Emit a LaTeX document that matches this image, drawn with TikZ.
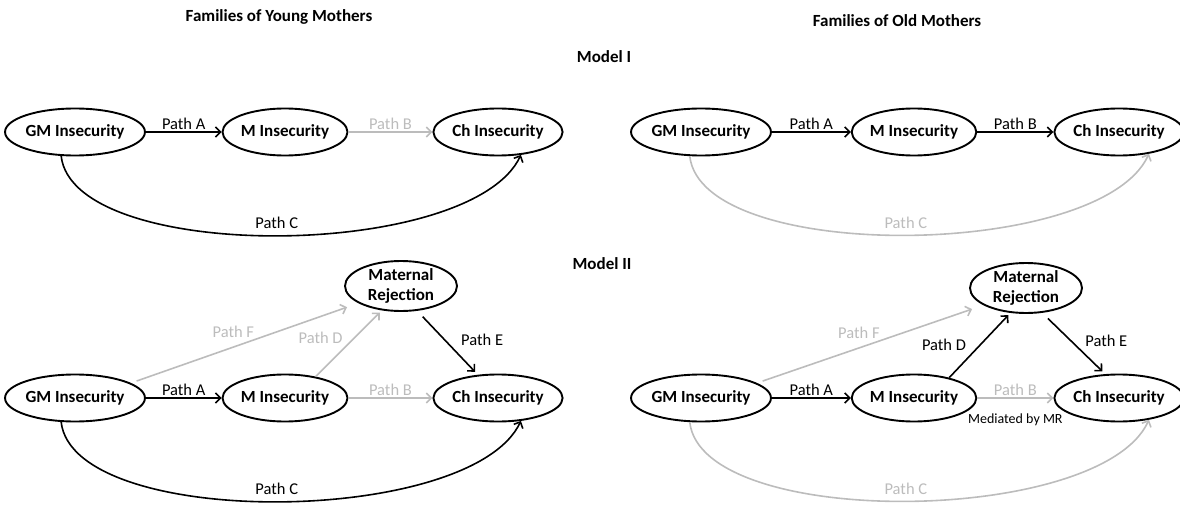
\documentclass[tikz,border=0pt]{standalone}
\usepackage{fontspec}
\setmainfont{Carlito}
\usetikzlibrary{shapes.geometric, arrows.meta, positioning, calc}
\definecolor{pathgray}{RGB}{188,188,188}

\begin{document}
\begin{tikzpicture}[x=1pt, y=-1pt,
    var/.style={ellipse, draw, line width=1.9pt, minimum width=125pt, minimum height=47pt, inner sep=0pt, font=\bfseries\fontsize{17}{20}\selectfont},
    mrej/.style={var, minimum width=112pt, minimum height=50pt, align=center},
    sig/.style={line width=1.6pt, -{Straight Barb[length=5pt,width=10pt]}},
    nsig/.style={sig, draw=pathgray},
    lab/.style={font=\fontsize{16.5}{19}\selectfont, inner sep=2pt},
    nlab/.style={lab, text=pathgray},
    ttl/.style={font=\bfseries\fontsize{17}{20}\selectfont}]

        \useasboundingbox (0,0) rectangle (1180,505);

        % Titles
        \node[ttl] (young) at (279,17) {Families of Young Mothers};
        \node[ttl] (old) at (897,21) {Families of Old Mothers};
        \node[ttl] (model1) at (604,57) {Model I};
        \node[ttl] (model2) at (602,264) {Model II};

        % Model I, young mothers
        \node[var] (gmA) at (75,132) {GM Insecurity};
        \node[var] (mA) at (285,132) {M Insecurity};
        \node[var, minimum width=128pt] (chA) at (498,132) {Ch Insecurity};
        \draw[sig] (gmA) -- node[lab, above] {Path A} (mA);
        \draw[nsig] (mA) -- node[nlab, above] {Path B} (chA);
        \draw[sig] (gmA.240) .. controls +(12,108) and +(-50,106) .. node[lab, above=4pt] {Path C} (chA.-45);

        % Model I, old mothers
        \node[var] (gmB) at (701,132) {GM Insecurity};
        \node[var, minimum width=122pt] (mB) at (914,132) {M Insecurity};
        \node[var, minimum width=120pt] (chB) at (1119,132) {Ch Insecurity};
        \draw[sig] (gmB) -- node[lab, above] {Path A} (mB);
        \draw[sig] (mB) -- node[lab, above] {Path B} (chB);
        \draw[nsig] (gmB.245) .. controls +(12,108) and +(-48,106) .. node[nlab, above=4pt] {Path C} (chB.-36);

        % Model II, young mothers
        \node[mrej] (mrC) at (401,286) {Maternal\\Rejection};
        \node[var] (gmC) at (75,398) {GM Insecurity};
        \node[var] (mC) at (285,398) {M Insecurity};
        \node[var, minimum width=128pt] (chC) at (498,398) {Ch Insecurity};
        \draw[sig] (gmC) -- node[lab, above] {Path A} (mC);
        \draw[nsig] (mC) -- node[nlab, above] {Path B} (chC);
        \draw[nsig, shorten <=6pt, shorten >=12pt] (gmC.15) -- node[nlab, above=7pt, pos=.45] {Path F} (mrC.202);
        \draw[nsig, shorten >=3pt] (mC.35) -- node[nlab, above left, pos=.45] {Path D} (mrC.232);
        \draw[sig, shorten <=8pt, shorten >=4pt] (mrC.-57) -- node[lab, right=14pt, pos=.45] {Path E} (chC.131);
        \draw[sig] (gmC.240) .. controls +(12,108) and +(-50,106) .. node[lab, above=4pt] {Path C} (chC.-45);

        % Model II, old mothers
        \node[mrej] (mrD) at (1026,288) {Maternal\\Rejection};
        \node[var] (gmD) at (701,398) {GM Insecurity};
        \node[var, minimum width=122pt] (mD) at (914,398) {M Insecurity};
        \node[var, minimum width=120pt] (chD) at (1119,398) {Ch Insecurity};
        \draw[sig] (gmD) -- node[lab, above] {Path A} (mD);
        \draw[nsig] (mD) -- node[nlab, above] {Path B} node[below=12pt, font=\fontsize{14}{16}\selectfont] (medi) {Mediated by MR} (chD);
        \draw[nsig, shorten <=6pt, shorten >=12pt] (gmD.15) -- node[nlab, above=7pt, pos=.45] {Path F} (mrD.202);
        \draw[sig, shorten >=3pt] (mD.30) -- node[lab, left=11pt] {Path D} (mrD.238);
        \draw[sig, shorten <=8pt, shorten >=4pt] (mrD.-57) -- node[lab, right=12pt, pos=.45] {Path E} (chD.120);
        \draw[nsig] (gmD.245) .. controls +(12,108) and +(-48,106) .. node[nlab, above=4pt] {Path C} (chD.-36);

\end{tikzpicture}
\end{document}
